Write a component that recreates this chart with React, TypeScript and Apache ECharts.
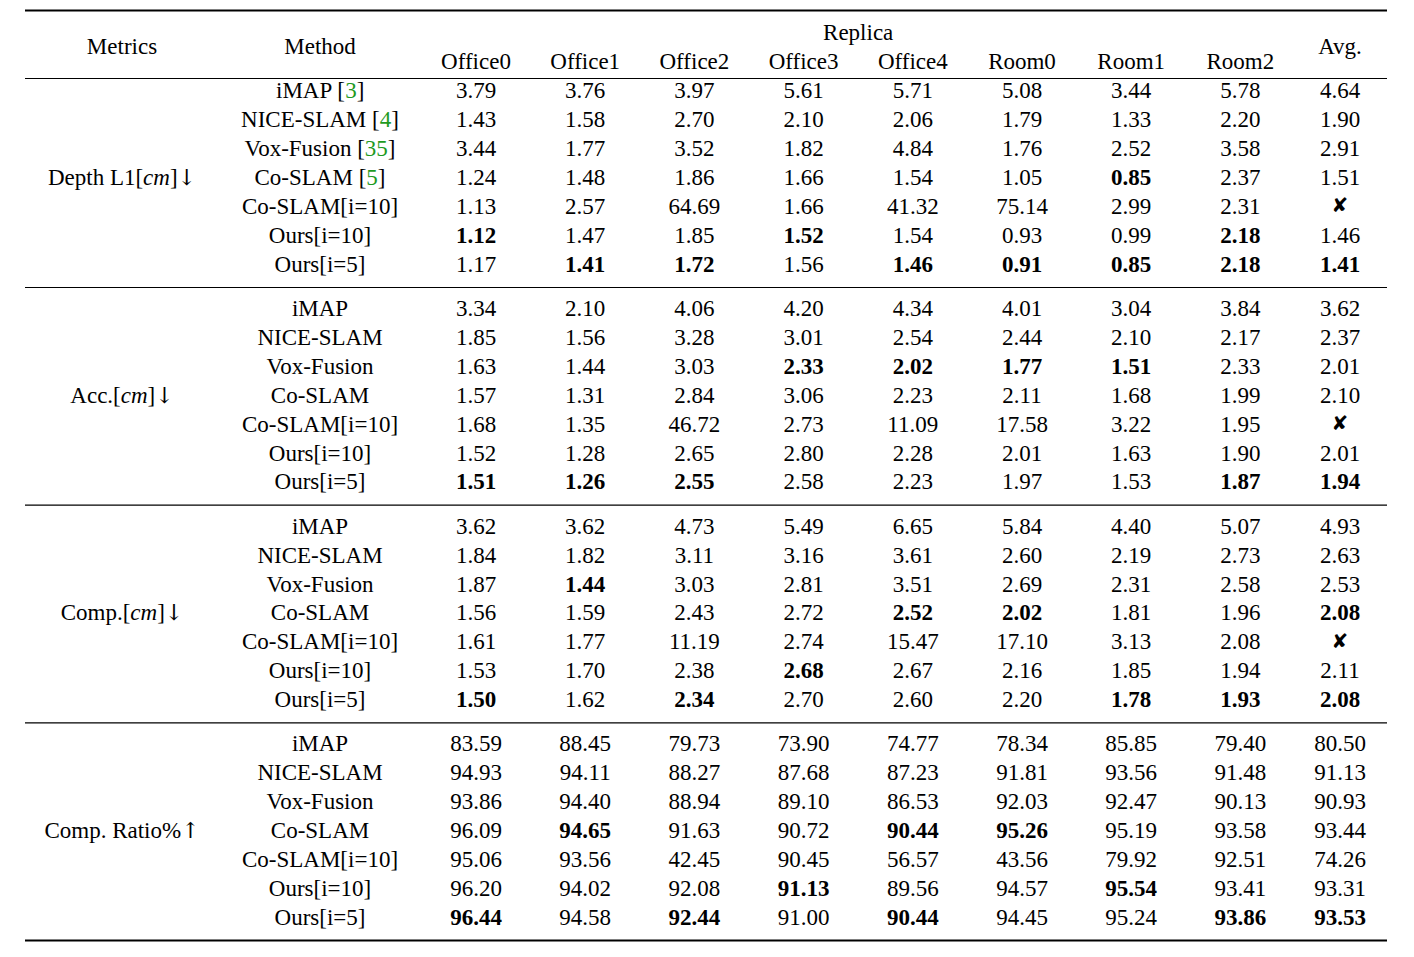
import React, { useEffect, useRef } from "react";
import * as echarts from "echarts";

// ---------- data ----------
const datasetLabel = "Replica";
const scenes = ["Office0", "Office1", "Office2", "Office3", "Office4", "Room0", "Room1", "Room2"];
const avgLabel = "Avg.";
const metricsHeader = "Metrics";
const methodHeader = "Method";

const methods = ["iMAP", "NICE-SLAM", "Vox-Fusion", "Co-SLAM", "Co-SLAM[i=10]", "Ours[i=10]", "Ours[i=5]"];
const citations = ["3", "4", "35", "5", "", "", ""];

const metricNames = ["Depth L1", "Acc.", "Comp.", "Comp. Ratio%"];
const metricUnits = ["cm", "cm", "cm", ""];
const metricArrows = ["↓", "↓", "↓", "↑"];

// null = failed (✘)
const depthL1 = [
  [3.79, 3.76, 3.97, 5.61, 5.71, 5.08, 3.44, 5.78, 4.64],
  [1.43, 1.58, 2.70, 2.10, 2.06, 1.79, 1.33, 2.20, 1.90],
  [3.44, 1.77, 3.52, 1.82, 4.84, 1.76, 2.52, 3.58, 2.91],
  [1.24, 1.48, 1.86, 1.66, 1.54, 1.05, 0.85, 2.37, 1.51],
  [1.13, 2.57, 64.69, 1.66, 41.32, 75.14, 2.99, 2.31, null],
  [1.12, 1.47, 1.85, 1.52, 1.54, 0.93, 0.99, 2.18, 1.46],
  [1.17, 1.41, 1.72, 1.56, 1.46, 0.91, 0.85, 2.18, 1.41],
];
const accuracy = [
  [3.34, 2.10, 4.06, 4.20, 4.34, 4.01, 3.04, 3.84, 3.62],
  [1.85, 1.56, 3.28, 3.01, 2.54, 2.44, 2.10, 2.17, 2.37],
  [1.63, 1.44, 3.03, 2.33, 2.02, 1.77, 1.51, 2.33, 2.01],
  [1.57, 1.31, 2.84, 3.06, 2.23, 2.11, 1.68, 1.99, 2.10],
  [1.68, 1.35, 46.72, 2.73, 11.09, 17.58, 3.22, 1.95, null],
  [1.52, 1.28, 2.65, 2.80, 2.28, 2.01, 1.63, 1.90, 2.01],
  [1.51, 1.26, 2.55, 2.58, 2.23, 1.97, 1.53, 1.87, 1.94],
];
const completion = [
  [3.62, 3.62, 4.73, 5.49, 6.65, 5.84, 4.40, 5.07, 4.93],
  [1.84, 1.82, 3.11, 3.16, 3.61, 2.60, 2.19, 2.73, 2.63],
  [1.87, 1.44, 3.03, 2.81, 3.51, 2.69, 2.31, 2.58, 2.53],
  [1.56, 1.59, 2.43, 2.72, 2.52, 2.02, 1.81, 1.96, 2.08],
  [1.61, 1.77, 11.19, 2.74, 15.47, 17.10, 3.13, 2.08, null],
  [1.53, 1.70, 2.38, 2.68, 2.67, 2.16, 1.85, 1.94, 2.11],
  [1.50, 1.62, 2.34, 2.70, 2.60, 2.20, 1.78, 1.93, 2.08],
];
const compRatio = [
  [83.59, 88.45, 79.73, 73.90, 74.77, 78.34, 85.85, 79.40, 80.50],
  [94.93, 94.11, 88.27, 87.68, 87.23, 91.81, 93.56, 91.48, 91.13],
  [93.86, 94.40, 88.94, 89.10, 86.53, 92.03, 92.47, 90.13, 90.93],
  [96.09, 94.65, 91.63, 90.72, 90.44, 95.26, 95.19, 93.58, 93.44],
  [95.06, 93.56, 42.45, 90.45, 56.57, 43.56, 79.92, 92.51, 74.26],
  [96.20, 94.02, 92.08, 91.13, 89.56, 94.57, 95.54, 93.41, 93.31],
  [96.44, 94.58, 92.44, 91.00, 90.44, 94.45, 95.24, 93.86, 93.53],
];

// [row, col] of bold (best) entries
const depthL1Bold = [[3, 6], [5, 0], [5, 3], [5, 7], [6, 1], [6, 2], [6, 4], [6, 5], [6, 6], [6, 7], [6, 8]];
const accuracyBold = [[2, 3], [2, 4], [2, 5], [2, 6], [6, 0], [6, 1], [6, 2], [6, 7], [6, 8]];
const completionBold = [[2, 1], [3, 4], [3, 5], [3, 8], [5, 3], [6, 0], [6, 2], [6, 6], [6, 7], [6, 8]];
const compRatioBold = [[3, 1], [3, 4], [3, 5], [5, 3], [5, 6], [6, 0], [6, 2], [6, 4], [6, 7], [6, 8]];

const metricValues = [depthL1, accuracy, completion, compRatio];
const metricBold = [depthL1Bold, accuracyBold, completionBold, compRatioBold];

// ---------- layout ----------
const W = 1414;
const H = 957;
const FONT_FAMILY = '"Liberation Serif", "Times New Roman", serif';
const FS = 23;
const LEFT = 25;
const RIGHT = 1387;
const METRIC_X = 122;
const METHOD_X = 320;
const COL0_X = 476;
const COL_STEP = 109.2;
const AVG_X = 1340;
const ROW0_Y = 90.8;
const ROW_STEP = 28.9;
const BLOCK_STEP = 217.7;
const GREEN = "#1f9a1f";

function buildGraphics() {
  const els: any[] = [];
  const txt = (text: string, x: number, y: number, bold = false, rich?: any, extra: any = {}) => {
    els.push({
      type: "text",
      silent: true,
      style: {
        text,
        x,
        y,
        font: `${bold ? "bold " : ""}${FS}px ${FONT_FAMILY}`,
        fill: "#000",
        textAlign: "center",
        textVerticalAlign: "middle",
        align: "center",
        verticalAlign: "middle",
        rich,
        ...extra,
      },
    });
  };
  const hline = (y: number, lw: number) => {
    els.push({
      type: "line",
      silent: true,
      shape: { x1: LEFT, y1: y, x2: RIGHT, y2: y },
      style: { stroke: "#000", lineWidth: lw },
    });
  };

  const richBase = { fontFamily: FONT_FAMILY, fontSize: FS, fill: "#000" };
  const rich = {
    n: { ...richBase },
    i: { ...richBase, fontStyle: "italic" },
    g: { ...richBase, fill: GREEN },
    a: { ...richBase, fontFamily: '"DejaVu Serif"', fontSize: 22 },
  };

  // rules
  hline(10.5, 2.2);
  hline(78.5, 1.2);
  for (let b = 0; b < metricValues.length - 1; b++) {
    hline(287.5 + b * BLOCK_STEP, 1.2);
  }
  hline(940.5, 2.2);

  // header
  txt(metricsHeader, METRIC_X, 46.5);
  txt(methodHeader, METHOD_X, 46.5);
  txt(datasetLabel, (COL0_X + COL0_X + COL_STEP * (scenes.length - 1)) / 2, 32.5);
  scenes.forEach((s, c) => txt(s, COL0_X + c * COL_STEP, 61.5));
  txt(avgLabel, AVG_X, 46.5);

  // body
  metricValues.forEach((vals, b) => {
    const bold = new Set(metricBold[b].map(([r, c]) => `${r}-${c}`));
    const by = ROW0_Y + b * BLOCK_STEP;
    // metric label on the middle row
    const unit = metricUnits[b];
    const label = unit
      ? `{n|${metricNames[b]}[}{i|${unit}}{n|]}{a|${metricArrows[b]}}`
      : `{n|${metricNames[b]}}{a|${metricArrows[b]}}`;
    txt(label, METRIC_X, by + 3 * ROW_STEP, false, rich);
    methods.forEach((m, r) => {
      const y = by + r * ROW_STEP;
      const cite = b === 0 ? citations[r] : "";
      if (cite) {
        txt(`{n|${m} [}{g|${cite}}{n|]}`, METHOD_X, y, false, rich);
      } else {
        txt(m, METHOD_X, y);
      }
      vals[r].forEach((v, c) => {
        const x = c < scenes.length ? COL0_X + c * COL_STEP : AVG_X;
        if (v === null) {
          els.push({
            type: "text",
            silent: true,
            style: {
              text: "✘",
              x,
              y: y - 1,
              font: `bold 20px "DejaVu Sans"`,
              fill: "#000",
              textAlign: "center",
              textVerticalAlign: "middle",
              align: "center",
              verticalAlign: "middle",
            },
          });
        } else {
          txt(v.toFixed(2), x, y, bold.has(`${r}-${c}`));
        }
      });
    });
  });
  return els;
}

export default function App() {
  const ref = useRef<HTMLDivElement>(null);
  useEffect(() => {
    document.body.style.margin = "0";
    const chart = echarts.init(ref.current!, null, { renderer: "svg", width: W, height: H });
    chart.setOption({
      animation: false,
      backgroundColor: "#fff",
      graphic: { elements: buildGraphics() },
    });
    return () => chart.dispose();
  }, []);
  return <div ref={ref} style={{ position: "fixed", left: 0, top: 0, width: W, height: H, background: "#fff" }} />;
}
